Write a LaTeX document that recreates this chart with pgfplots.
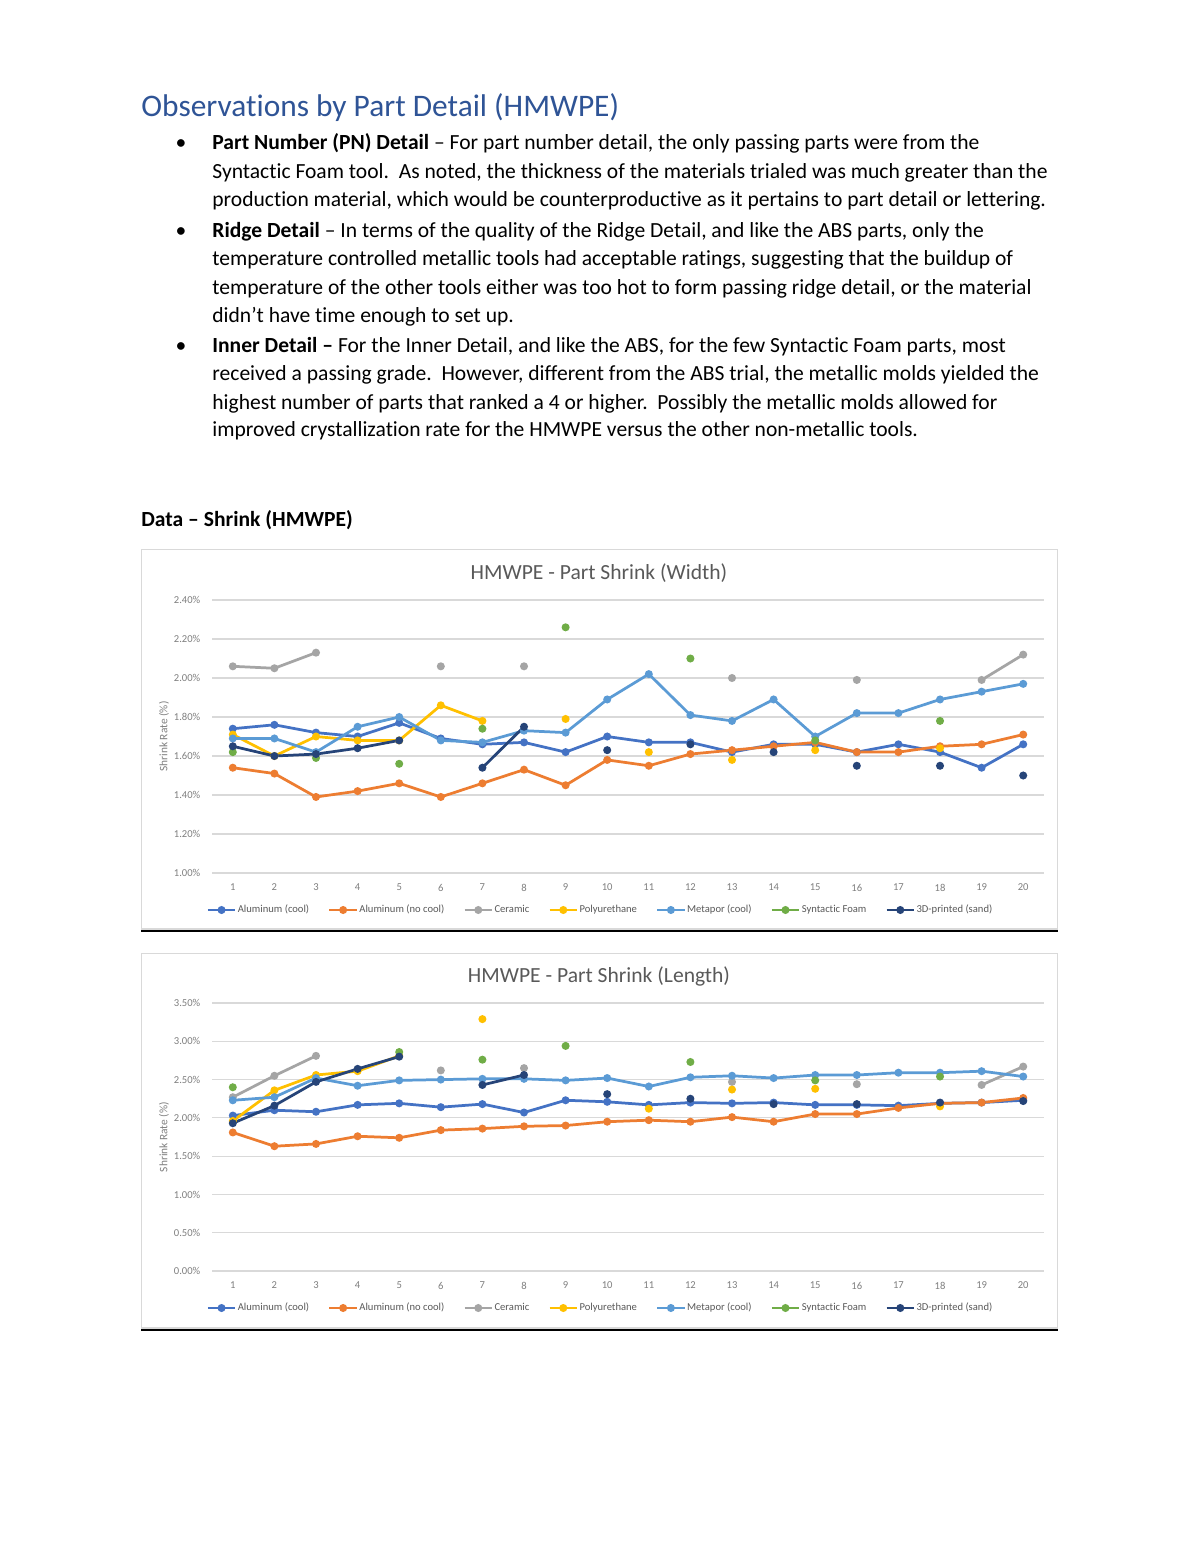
\documentclass[border=0pt]{standalone}
\usepackage{fontspec}
\setmainfont{Carlito}[Ligatures=NoCommon]
\usepackage{pgfplots}
\usepackage{pgfplotstable}
\pgfplotsset{compat=1.18}
\definecolor{cAlc}{HTML}{4472C4}
\definecolor{cAln}{HTML}{ED7D31}
\definecolor{cCer}{HTML}{A5A5A5}
\definecolor{cPol}{HTML}{FFC000}
\definecolor{cMet}{HTML}{5B9BD5}
\definecolor{cSyn}{HTML}{70AD47}
\definecolor{cPrn}{HTML}{264478}
\definecolor{titleblue}{HTML}{2F5496}
\definecolor{gridgray}{HTML}{D9D9D9}
\definecolor{ticktext}{HTML}{7F7F7F}
\definecolor{charttitle}{HTML}{595959}
\newcommand\tickfont{\fontsize{5.4}{6.5}\selectfont}

\pgfplotstableread{
x alc aln cer pol met syn prn
1 1.74 1.54 2.06 1.71 1.69 1.62 1.65
2 1.76 1.51 2.05 1.60 1.69 nan 1.60
3 1.72 1.39 2.13 1.70 1.62 1.59 1.61
4 1.70 1.42 nan 1.68 1.75 nan 1.64
5 1.77 1.46 nan 1.68 1.80 1.56 1.68
6 1.69 1.39 2.06 1.86 1.68 nan nan
7 1.66 1.46 nan 1.78 1.67 1.74 1.54
8 1.67 1.53 2.06 nan 1.73 nan 1.75
9 1.62 1.45 nan 1.79 1.72 2.26 nan
10 1.70 1.58 nan nan 1.89 nan 1.63
11 1.67 1.55 nan 1.62 2.02 nan nan
12 1.67 1.61 nan nan 1.81 2.10 1.66
13 1.62 1.63 2.00 1.58 1.78 nan nan
14 1.66 1.65 nan nan 1.89 nan 1.62
15 1.66 1.67 nan 1.63 1.70 1.68 nan
16 1.62 1.62 1.99 nan 1.82 nan 1.55
17 1.66 1.62 nan nan 1.82 nan nan
18 1.62 1.65 nan 1.64 1.89 1.78 1.55
19 1.54 1.66 1.99 nan 1.93 nan nan
20 1.66 1.71 2.12 nan 1.97 nan 1.50
}\widthdata

\pgfplotstableread{
x alc aln cer pol met syn prn
1 2.03 1.81 2.27 1.96 2.23 2.40 1.93
2 2.10 1.63 2.55 2.36 2.27 nan 2.16
3 2.08 1.66 2.81 2.56 2.52 nan 2.47
4 2.17 1.76 nan 2.61 2.42 nan 2.64
5 2.19 1.74 nan 2.81 2.49 2.86 2.80
6 2.14 1.84 2.62 nan 2.50 nan nan
7 2.18 1.86 nan 3.29 2.51 2.76 2.43
8 2.07 1.89 2.65 nan 2.51 nan 2.56
9 2.23 1.90 nan nan 2.49 2.94 nan
10 2.21 1.95 nan nan 2.52 nan 2.31
11 2.17 1.97 nan 2.12 2.41 nan nan
12 2.20 1.95 nan nan 2.53 2.73 2.25
13 2.19 2.01 2.47 2.37 2.55 nan nan
14 2.20 1.95 nan nan 2.52 nan 2.18
15 2.17 2.05 nan 2.38 2.56 2.49 nan
16 2.17 2.05 2.44 nan 2.56 nan 2.18
17 2.16 2.13 nan nan 2.59 nan nan
18 2.19 2.19 nan 2.15 2.59 2.54 2.20
19 2.20 2.20 2.43 nan 2.61 nan nan
20 2.23 2.26 2.67 nan 2.54 nan 2.22
}\lengthdata

\pgfplotsset{
  shrinkaxis/.style={
    scale only axis,
    width=424.32pt,
    xmin=0.5, xmax=20.5,
    xtick={1,...,20},
    xticklabels={1,2,3,4,5,6,7,8,9,10,11,12,13,14,15,16,17,18,19,20},
    axis line style={draw=none},
    tick style={draw=none},
    ymajorgrids,
    grid style={gridgray, line width=0.6pt},
    unbounded coords=jump,
    /pgf/number format/assume math mode=true,
    xticklabel style={font=\tickfont, text=ticktext, inner sep=0pt, anchor=north, yshift=-5.4pt},
    yticklabel style={font=\tickfont, text=ticktext, inner sep=0pt, anchor=east, xshift=-5.8pt},
    ylabel={Shrink Rate (\%)},
    every axis y label/.style={at={(axis description cs:-0.0577,0.5)}, rotate=90, anchor=center,
      font=\fontsize{5.8}{7}\selectfont, text=ticktext},
    legend columns=7,
    legend style={draw=none, fill=none, font=\tickfont, text=charttitle, anchor=center,
      nodes={inner sep=0.6pt},
      /tikz/every even column/.append style={column sep=9pt}},
    legend image code/.code={\draw[mark repeat=2,mark phase=2] plot coordinates {(0pt,0pt)(7pt,0pt)(14pt,0pt)};},
    every axis plot/.append style={line width=1.4pt, mark=*, mark size=1.3pt, mark options={solid}},
  }
}

\begin{document}
\begin{tikzpicture}
\begin{scope}[x=0.51pt,y=-0.51pt]
\fill[white] (0,0) rectangle (1200,1553);
% heading
\node[anchor=base west, inner sep=0, font=\fontsize{16}{19}\selectfont, text=titleblue] at (141,116.7) {Observations by Part Detail (HMWPE)};
% bullets
\foreach \yy in {150,237.3,352.7} {\node[anchor=base, inner sep=0, font=\fontsize{11}{13}\selectfont] at (181,\yy) {•};}
\begin{scope}[every node/.style={anchor=base west, inner sep=0, font=\fontsize{11}{13}\selectfont}]
\node at (212,150) {\textbf{Part Number (PN) Detail} – For part number detail, the only passing parts were from the};
\node at (212,178.3) {Syntactic Foam tool.\ \ As noted, the thickness of the materials trialed was much greater than the};
\node at (212,206.6) {production material, which would be counterproductive as it pertains to part detail or lettering.};
\node at (212,237.3) {\textbf{Ridge Detail} – In terms of the quality of the Ridge Detail, and like the ABS parts, only the};
\node at (212,265.7) {temperature controlled metallic tools had acceptable ratings, suggesting that the buildup of};
\node at (212,294.0) {temperature of the other tools either was too hot to form passing ridge detail, or the material};
\node at (212,322.4) {didn’t have time enough to set up.};
\node at (212,352.7) {\textbf{Inner Detail –} For the Inner Detail, and like the ABS, for the few Syntactic Foam parts, most};
\node at (212,380.9) {received a passing grade.\ \ However, different from the ABS trial, the metallic molds yielded the};
\node at (212,409.0) {highest number of parts that ranked a 4 or higher.\ \ Possibly the metallic molds allowed for};
\node at (212,436.9) {improved crystallization rate for the HMWPE versus the other non-metallic tools.};
\node at (141,526) {\textbf{Data – Shrink (HMWPE)}};
\end{scope}
% chart frames
\draw[gridgray, line width=0.8pt] (141.5,549.5) rectangle (1057.5,929);
\draw[black, line width=1.1pt] (141,931) -- (1058,931);
\draw[gridgray, line width=0.8pt] (141.5,953.5) rectangle (1057.5,1328);
\draw[black, line width=1.1pt] (141,1330) -- (1058,1330);
% chart titles
\node[anchor=center, inner sep=0, font=\fontsize{11}{13}\selectfont, text=charttitle] at (599,573) {HMWPE - Part Shrink (Width)};
\node[anchor=center, inner sep=0, font=\fontsize{11}{13}\selectfont, text=charttitle] at (599,976) {HMWPE - Part Shrink (Length)};
\end{scope}

\begin{axis}[shrinkaxis,
  at={(108.12pt,-445.23pt)}, anchor=south west,
  height=139.23pt,
  ymin=1.0, ymax=2.4,
  ytick={1.0,1.2,1.4,1.6,1.8,2.0,2.2,2.4},
  yticklabels={1.00\%,1.20\%,1.40\%,1.60\%,1.80\%,2.00\%,2.20\%,2.40\%},
  legend style={at={(axis description cs:0.4663,-0.1355)}},
]
\addplot[color=cAlc, mark options={fill=cAlc}] table[x=x,y=alc] {\widthdata};
\addlegendentry{Aluminum (cool)}
\addplot[color=cAln, mark options={fill=cAln}] table[x=x,y=aln] {\widthdata};
\addlegendentry{Aluminum (no cool)}
\addplot[color=cCer, mark options={fill=cCer}] table[x=x,y=cer] {\widthdata};
\addlegendentry{Ceramic}
\addplot[color=cPol, mark options={fill=cPol}] table[x=x,y=pol] {\widthdata};
\addlegendentry{Polyurethane}
\addplot[color=cMet, mark options={fill=cMet}] table[x=x,y=met] {\widthdata};
\addlegendentry{Metapor (cool)}
\addplot[color=cSyn, mark options={fill=cSyn}] table[x=x,y=syn] {\widthdata};
\addlegendentry{Syntactic Foam}
\addplot[color=cPrn, mark options={fill=cPrn}] table[x=x,y=prn] {\widthdata};
\addlegendentry{3D-printed (sand)}
\end{axis}

\begin{axis}[shrinkaxis,
  at={(108.12pt,-648.21pt)}, anchor=south west,
  height=136.68pt,
  ymin=0, ymax=3.5,
  ytick={0,0.5,1.0,1.5,2.0,2.5,3.0,3.5},
  yticklabels={0.00\%,0.50\%,1.00\%,1.50\%,2.00\%,2.50\%,3.00\%,3.50\%},
  legend style={at={(axis description cs:0.4663,-0.138)}},
]
\addplot[color=cAlc, mark options={fill=cAlc}] table[x=x,y=alc] {\lengthdata};
\addlegendentry{Aluminum (cool)}
\addplot[color=cAln, mark options={fill=cAln}] table[x=x,y=aln] {\lengthdata};
\addlegendentry{Aluminum (no cool)}
\addplot[color=cCer, mark options={fill=cCer}] table[x=x,y=cer] {\lengthdata};
\addlegendentry{Ceramic}
\addplot[color=cPol, mark options={fill=cPol}] table[x=x,y=pol] {\lengthdata};
\addlegendentry{Polyurethane}
\addplot[color=cMet, mark options={fill=cMet}] table[x=x,y=met] {\lengthdata};
\addlegendentry{Metapor (cool)}
\addplot[color=cSyn, mark options={fill=cSyn}] table[x=x,y=syn] {\lengthdata};
\addlegendentry{Syntactic Foam}
\addplot[color=cPrn, mark options={fill=cPrn}] table[x=x,y=prn] {\lengthdata};
\addlegendentry{3D-printed (sand)}
\end{axis}
\end{tikzpicture}
\end{document}
